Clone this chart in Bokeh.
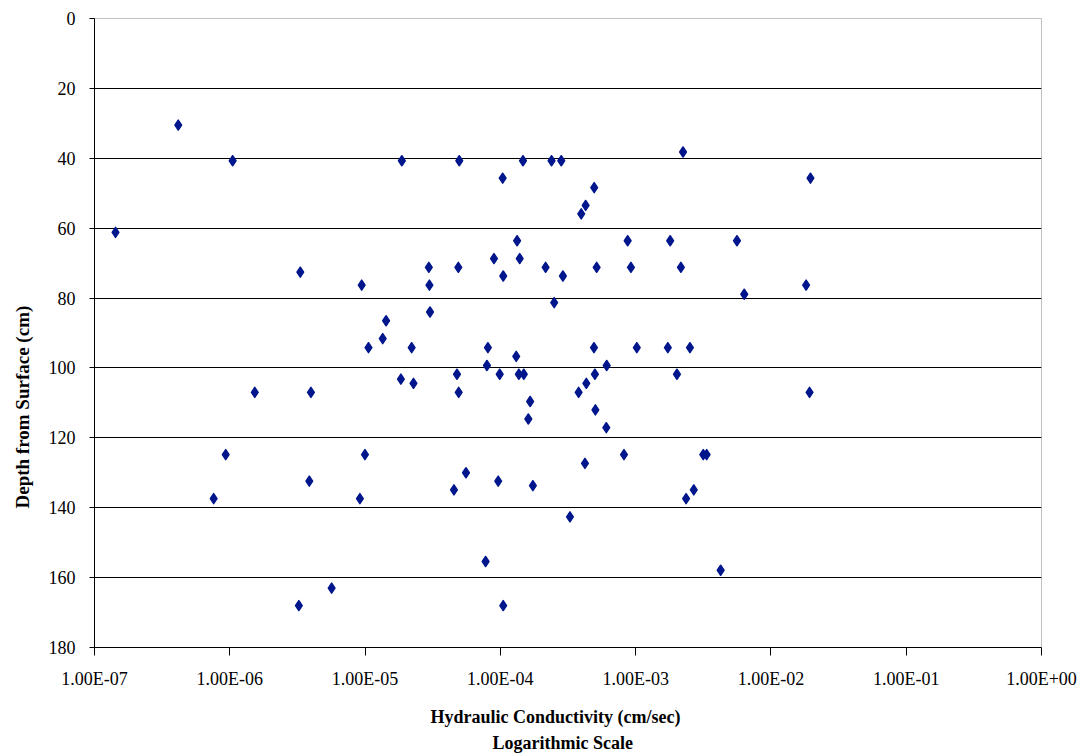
from bokeh.plotting import figure
from bokeh.models import (Range1d, FixedTicker, CustomJSTickFormatter, Title,
                          ColumnDataSource)
from bokeh.embed import file_html
from bokeh.resources import INLINE

# Hydraulic conductivity (cm/sec) and depth from surface (cm)
conductivity = [
    4.16e-7, 1.05e-6, 1.43e-7, 3.32e-6, 9.44e-6, 1.87e-5, 4.97e-5, 1.47e-4,
    2.39e-4, 2.82e-4, 1.04e-4, 4.94e-4, 4.27e-4, 3.96e-4, 1.33e-4, 8.73e-4,
    8.97e-5, 1.39e-4, 2.96e-5, 4.89e-5, 2.16e-4, 5.15e-4, 9.23e-4, 1.05e-4,
    2.90e-4, 2.99e-5, 2.50e-4, 3.02e-5, 1.43e-5, 1.35e-5, 1.06e-5, 2.21e-5,
    8.09e-5, 4.92e-4, 1.02e-3, 1.31e-4, 7.96e-5, 6.11e-4, 2.24e-3, 1.96e-2,
    1.80e-3, 5.61e-3, 2.16e-3, 1.82e-2, 6.35e-3, 1.73e-3, 2.52e-3, 2.02e-3,
    1.53e-6, 3.98e-6, 9.33e-7, 3.87e-6, 7.60e-7, 9.16e-6, 5.66e-6, 3.24e-6,
    1.84e-5, 2.28e-5, 4.78e-5, 4.92e-5, 9.89e-5, 1.37e-4, 1.49e-4, 1.66e-4,
    1.61e-4, 3.79e-4, 4.32e-4, 5.00e-4, 5.04e-4, 6.07e-4, 9.98e-6, 8.20e-4,
    4.22e-4, 5.57e-5, 9.64e-5, 4.54e-5, 1.74e-4, 3.27e-4, 7.78e-5, 1.05e-4,
    1.93e-2, 3.16e-3, 3.35e-3, 2.69e-3, 2.36e-3, 4.25e-3,
]
depth = [
    30.5, 40.7, 61.2, 72.6, 76.3, 40.7, 40.7, 40.7,
    40.7, 40.7, 45.7, 48.4, 53.5, 55.9, 63.6, 63.6,
    68.7, 68.7, 71.2, 71.2, 71.2, 71.2, 71.2, 73.7,
    73.7, 76.3, 81.3, 84.0, 86.5, 91.6, 94.2, 94.2,
    94.2, 94.2, 94.2, 96.7, 99.3, 99.3, 38.2, 45.7,
    63.6, 63.6, 71.2, 76.3, 78.9, 94.2, 94.2, 101.8,
    107.0, 107.0, 124.8, 132.4, 137.4, 137.4, 163.0, 168.0,
    103.2, 104.4, 101.8, 107.0, 101.8, 101.8, 101.8, 109.6,
    114.6, 107.0, 104.4, 101.8, 112.0, 117.1, 124.8, 124.8,
    127.3, 130.0, 132.4, 134.9, 133.7, 142.6, 155.4, 168.0,
    107.0, 124.8, 124.8, 134.9, 137.4, 157.9,
]

x_ticks = [1e-7, 1e-6, 1e-5, 1e-4, 1e-3, 1e-2, 1e-1, 1e0]
x_labels = ["1.00E-07", "1.00E-06", "1.00E-05", "1.00E-04",
            "1.00E-03", "1.00E-02", "1.00E-01", "1.00E+00"]
y_ticks = [0, 20, 40, 60, 80, 100, 120, 140, 160, 180]

x_title = "Hydraulic Conductivity (cm/sec)"
x_subtitle = "Logarithmic Scale"
y_title = "Depth from Surface (cm)"

FONT = "Liberation Serif"

p = figure(width=1081, height=753, x_axis_type="log",
           x_range=Range1d(x_ticks[0], x_ticks[-1]),
           y_range=Range1d(y_ticks[-1], y_ticks[0]),
           output_backend="svg", toolbar_location=None,
           min_border_left=94, min_border_right=40,
           min_border_top=18, min_border_bottom=106)

p.background_fill_color = "white"
p.border_fill_color = "white"
p.outline_line_color = "#c0c0c0"
p.outline_line_width = 1

src = ColumnDataSource(dict(k=conductivity, d=depth))
p.scatter("k", "d", source=src, marker="diamond", size=10,
          fill_color="#00168c", line_color="#00168c", line_width=1.5,
          line_join="round")

# grids
p.xgrid.grid_line_color = None
p.ygrid.grid_line_color = "#000000"
p.ygrid.grid_line_width = 1
p.ygrid.ticker = FixedTicker(ticks=y_ticks)

# x axis
xa = p.xaxis[0]
xa.ticker = FixedTicker(ticks=x_ticks, minor_ticks=[])
xa.formatter = CustomJSTickFormatter(args=dict(tvals=x_ticks, tlabels=x_labels), code="""
let best = 0, bd = Infinity;
for (let i = 0; i < tvals.length; i++) {
  const d = Math.abs(Math.log10(tick) - Math.log10(tvals[i]));
  if (d < bd) { bd = d; best = i; }
}
return tlabels[best];
""")
xa.major_tick_in = 0
xa.major_tick_out = 8
xa.minor_tick_line_color = None
xa.major_tick_line_color = "black"
xa.axis_line_color = "black"
xa.major_label_text_font = FONT
xa.major_label_text_font_size = "18px"
xa.major_label_text_color = "black"
xa.major_label_standoff = 13

# y axis
ya = p.yaxis[0]
ya.ticker = FixedTicker(ticks=y_ticks, minor_ticks=[])
ya.major_tick_in = 0
ya.major_tick_out = 5
ya.minor_tick_line_color = None
ya.major_tick_line_color = "black"
ya.axis_line_color = "black"
ya.major_label_text_font = FONT
ya.major_label_text_font_size = "18px"
ya.major_label_text_color = "black"
ya.major_label_standoff = 14

# axis titles placed as side-panel titles
t1 = Title(text=x_title, align="left", offset=336, standoff=26,
           text_font=FONT, text_font_style="bold", text_font_size="18px",
           text_color="black")
t2 = Title(text=x_subtitle, align="left", offset=398, standoff=-18,
           text_font=FONT, text_font_style="bold", text_font_size="18px",
           text_color="black")
p.add_layout(t1, "below")
p.add_layout(t2, "below")

ty = Title(text=y_title, align="left", offset=139, standoff=22,
           vertical_align="top",
           text_font=FONT, text_font_style="bold", text_font_size="19px",
           text_color="black")
p.add_layout(ty, "left")

open("out.html", "w").write(file_html(p, INLINE))
